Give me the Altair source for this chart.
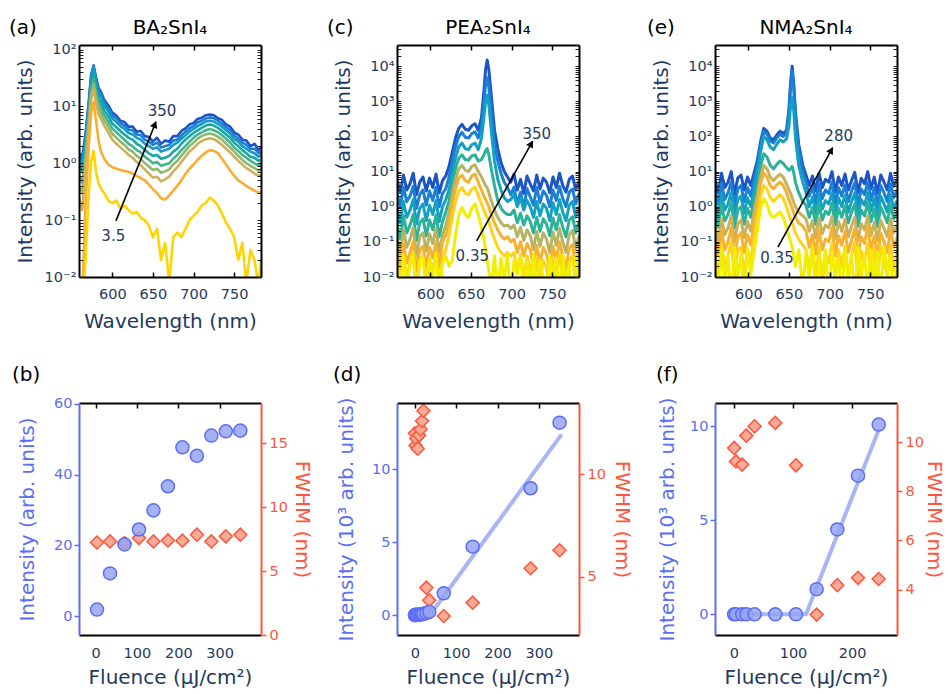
import altair as alt
import pandas as pd

FONT = "DejaVu Sans"
NAVY = "#1F3A60"
BLUE = "#5A6EF5"
RED = "#FF553C"

# ---------------- (a) BA2SnI4 spectra ----------------
wl_a = [559, 563, 567, 571, 574, 577, 580, 583, 586, 590, 595, 600, 605, 610, 615, 620, 625, 630, 635, 640,
        645, 650, 655, 660, 665, 670, 675, 680, 685, 690, 695, 700, 705, 710, 715, 720, 725, 730, 735, 740,
        745, 750, 755, 760, 765, 770, 775, 780, 783]
flu_a = ["350", "280", "210", "175", "140", "105", "70", "35", "3.5"]
col_a = ["#1C55C8", "#1A7ED3", "#1598C8", "#13A8A8", "#45B48E", "#8DB870", "#CDB05A", "#F9AE33", "#FFD400"]
spec_a = {
    "350": [1.5, 1.3, 3.2, 12, 36, 52.5, 32, 21, 18, 13, 10.5, 7.8, 6.9, 5.6, 5.3, 4.4, 4.4, 3.6, 3.7, 3.0,
            2.9, 2.4, 2.8, 2.2, 2.5, 2.4, 3.0, 3.0, 3.7, 4.1, 4.8, 5.1, 6.0, 6.3, 7.0, 7.2, 7.0, 6.2, 5.8, 4.8,
            4.4, 3.5, 3.2, 2.6, 2.5, 2.0, 2.2, 1.7, 1.9],
    "280": [1.3, 1.1, 2.9, 11, 34, 51, 30, 19, 16.5, 12, 9.4, 7.0, 6.2, 5.1, 4.6, 3.9, 3.8, 3.2, 3.1, 2.6,
            2.4, 2.1, 2.3, 1.9, 2.0, 2.1, 2.5, 2.6, 3.1, 3.6, 4.1, 4.5, 5.2, 5.6, 6.1, 6.4, 6.2, 5.6, 5.0, 4.3,
            3.8, 3.1, 2.7, 2.3, 2.1, 1.8, 1.8, 1.5, 1.6],
    "210": [1.1, 0.9, 2.5, 10, 31, 48, 27, 17, 14.5, 10.5, 8.2, 6.1, 5.3, 4.5, 4.0, 3.4, 3.2, 2.8, 2.6, 2.2,
            2.0, 1.8, 1.9, 1.6, 1.7, 1.8, 2.1, 2.3, 2.7, 3.1, 3.6, 4.0, 4.5, 4.9, 5.4, 5.6, 5.4, 4.9, 4.4, 3.8,
            3.3, 2.7, 2.4, 2.0, 1.8, 1.6, 1.5, 1.3, 1.4],
    "175": [0.9, 0.7, 2.0, 8, 25, 37, 21, 13.5, 11.5, 8.5, 6.6, 5.0, 4.3, 3.7, 3.2, 2.8, 2.6, 2.2, 2.0, 1.7,
            1.5, 1.35, 1.4, 1.2, 1.25, 1.35, 1.6, 1.8, 2.2, 2.6, 3.0, 3.4, 3.8, 4.2, 4.6, 4.8, 4.6, 4.2, 3.7, 3.2,
            2.8, 2.3, 2.0, 1.7, 1.5, 1.3, 1.25, 1.1, 1.15],
    "140": [0.6, 0.45, 1.5, 6.5, 20, 30, 17, 11, 9.3, 7.0, 5.4, 4.1, 3.5, 3.0, 2.6, 2.2, 2.0, 1.7, 1.55, 1.3,
            1.15, 1.0, 1.05, 0.9, 0.95, 1.0, 1.2, 1.4, 1.7, 2.0, 2.4, 2.8, 3.2, 3.5, 3.8, 4.0, 3.8, 3.5, 3.1, 2.7,
            2.3, 1.9, 1.65, 1.4, 1.25, 1.1, 1.0, 0.9, 0.95],
    "105": [0.4, 0.3, 1.1, 5.2, 16, 24.5, 14, 9, 7.5, 5.7, 4.4, 3.3, 2.8, 2.4, 2.1, 1.75, 1.6, 1.35, 1.2, 1.0,
            0.88, 0.76, 0.8, 0.68, 0.72, 0.78, 0.95, 1.1, 1.35, 1.65, 2.0, 2.3, 2.7, 3.0, 3.2, 3.35, 3.2, 2.9, 2.6, 2.2,
            1.9, 1.6, 1.35, 1.15, 1.0, 0.9, 0.82, 0.74, 0.78],
    "70": [0.25, 0.15, 0.8, 4.3, 13.5, 20.5, 11.5, 7.3, 6.1, 4.6, 3.5, 2.6, 2.2, 1.9, 1.65, 1.4, 1.25, 1.05, 0.92, 0.78,
           0.66, 0.56, 0.58, 0.48, 0.52, 0.58, 0.72, 0.85, 1.05, 1.3, 1.6, 1.85, 2.2, 2.45, 2.65, 2.75, 2.65, 2.4, 2.1, 1.8,
           1.55, 1.3, 1.1, 0.95, 0.82, 0.74, 0.66, 0.6, 0.62],
    "35": [0.004, 0.004, 0.2, 2.0, 7.5, 12, 5.5, 2.6, 1.6, 1.2, 0.95, 0.85, 0.8, 0.76, 0.73, 0.7, 0.66, 0.6, 0.55, 0.5,
           0.42, 0.35, 0.3, 0.24, 0.23, 0.27, 0.33, 0.4, 0.5, 0.65, 0.8, 0.95, 1.15, 1.35, 1.55, 1.7, 1.65, 1.5, 1.2, 0.95,
           0.75, 0.6, 0.5, 0.45, 0.4, 0.36, 0.33, 0.3, 0.31],
    "3.5": [0.003, 0.003, 0.02, 0.3, 1.1, 1.65, 0.7, 0.45, 0.36, 0.3, 0.22, 0.2, 0.22, 0.16, 0.18, 0.15, 0.13, 0.14, 0.11, 0.1,
            0.08, 0.05, 0.07, 0.02, 0.04, 0.008, 0.05, 0.06, 0.05, 0.07, 0.1, 0.12, 0.14, 0.18, 0.2, 0.25, 0.22, 0.18, 0.13, 0.09,
            0.07, 0.05, 0.02, 0.04, 0.008, 0.03, 0.02, 0.007, 0.02],
}
arrow_a = [604.5, 0.097, 653.8, 5.38]
head_a = [652.4, 4.81]
angle_a = 22
ann_a = ([661.2, 601.2], [8.3, 0.053], ["350", "3.5"])

# ---------------- (c) PEA2SnI4 spectra ----------------
wl_c = [559, 563, 567, 571, 575, 579, 583, 587, 591, 595, 599, 603, 607, 611, 615, 619, 623, 627, 631, 635,
        639, 643, 647, 651, 655, 659, 663, 666, 668, 670, 672, 675, 679, 683, 687, 691, 695, 699, 703, 707,
        711, 715, 719, 723, 727, 731, 735, 739, 743, 747, 751, 755, 759, 763, 767, 771, 775, 779, 783]
flu_c = ["350", "140", "70", "35", "17.5", "7", "1.75", "0.35"]
col_c = ["#1C55C8", "#1A80D6", "#14A0C0", "#2DB29A", "#B5B462", "#F7B12E", "#FFD21C", "#F2EE00"]
spec_c = {
    "350": [6, 2.5, 8, 3, 4.5, 9, 2.2, 5, 7, 2.8, 6.5, 3.5, 8.5, 2.5, 5.5, 7.5]
           + [14, 35, 90, 170, 220, 160, 150, 200, 230, 150, 350, 2000, 8000, 15000, 8000, 1500, 150, 45, 18, 10, 7]
           + [5, 8.5, 3, 6, 2.4, 7.5, 4.5, 2.8, 8, 3.2, 6.5, 5, 2.5, 7, 3.5, 9, 4, 2.6, 6, 7.5, 3, 5.5],
    "140": [2.5, 1.0, 3.5, 1.4, 2.0, 3.8, 0.9, 2.2, 3.0, 1.1, 2.8, 1.5, 3.6, 1.0, 2.4, 3.2]
           + [7, 18, 50, 100, 130, 95, 90, 120, 135, 90, 200, 900, 3000, 4700, 2500, 500, 60, 20, 9, 5, 3.5]
           + [2.2, 3.6, 1.2, 2.6, 0.9, 3.3, 1.9, 1.1, 3.5, 1.3, 2.8, 2.1, 1.0, 3.0, 1.5, 3.8, 1.7, 1.0, 2.6, 3.2, 1.2, 2.4],
    "70": [0.9, 0.35, 1.4, 0.5, 0.8, 1.6, 0.32, 0.9, 1.2, 0.4, 1.1, 0.6, 1.5, 0.38, 1.0, 1.6]
          + [3, 9, 25, 50, 65, 45, 42, 58, 65, 42, 90, 350, 1000, 1500, 800, 150, 20, 6, 3, 1.8, 1.4]
          + [1.6, 2.2, 1.0, 1.8, 0.8, 1.5, 1.0, 0.5, 1.4, 0.55, 1.2, 0.9, 0.4, 1.3, 0.6, 1.6, 0.7, 0.4, 1.1, 1.4, 0.5, 1.0],
    "35": [0.35, 0.12, 0.55, 0.18, 0.3, 0.6, 0.11, 0.35, 0.45, 0.15, 0.42, 0.22, 0.58, 0.14, 0.38, 0.7]
          + [1.5, 4.5, 12, 24, 30, 22, 21, 28, 30, 20, 22, 30, 40, 45, 30, 12, 4, 1.5, 0.9, 0.7, 0.6]
          + [0.6, 0.8, 0.35, 0.65, 0.3, 0.55, 0.38, 0.18, 0.5, 0.2, 0.45, 0.32, 0.15, 0.48, 0.22, 0.6, 0.26, 0.14, 0.42, 0.52, 0.18, 0.38],
    "17.5": [0.14, 0.045, 0.22, 0.07, 0.12, 0.25, 0.04, 0.14, 0.18, 0.055, 0.17, 0.09, 0.24, 0.05, 0.15, 0.3]
            + [0.7, 2.2, 6, 12, 15, 11, 10, 14, 15.5, 10, 7, 5, 4, 3.5, 2.5, 1.5, 0.8, 0.5, 0.35, 0.28, 0.3]
            + [0.24, 0.3, 0.14, 0.26, 0.11, 0.22, 0.15, 0.06, 0.2, 0.075, 0.18, 0.12, 0.05, 0.19, 0.08, 0.24, 0.1, 0.05, 0.16, 0.21, 0.065, 0.15],
    "7": [0.06, 0.016, 0.09, 0.025, 0.05, 0.1, 0.015, 0.06, 0.075, 0.02, 0.07, 0.035, 0.1, 0.018, 0.1, 0.15]
         + [0.35, 1.1, 3.2, 6.5, 8, 5.5, 5, 7.5, 8.5, 5, 3, 2, 1.6, 1.3, 1, 0.6, 0.35, 0.22, 0.15, 0.12, 0.14]
         + [0.1, 0.12, 0.05, 0.1, 0.04, 0.09, 0.06, 0.02, 0.08, 0.025, 0.07, 0.045, 0.017, 0.075, 0.03, 0.1, 0.04, 0.018, 0.065, 0.085, 0.022, 0.06],
    "1.75": [0.03, 0.005, 0.045, 0.009, 0.025, 0.05, 0.004, 0.03, 0.04, 0.007, 0.035, 0.015, 0.05, 0.006, 0.03, 0.06]
            + [0.15, 0.5, 1.4, 2.8, 3.5, 2.4, 2.2, 3.2, 3.6, 2.1, 1.2, 0.8, 0.6, 0.5, 0.38, 0.22, 0.12, 0.07, 0.05, 0.04, 0.05]
            + [0.04, 0.05, 0.015, 0.045, 0.008, 0.04, 0.02, 0.005, 0.035, 0.007, 0.03, 0.018, 0.004, 0.032, 0.009, 0.045, 0.012, 0.005, 0.028, 0.04, 0.006, 0.025],
    "0.35": [0.025, 0.003, 0.04, 0.006, 0.02, 0.045, 0.002, 0.03, 0.035, 0.004, 0.03, 0.01, 0.045, 0.003, 0.025, 0.04, 0.02, 0.03]
            + [0.15, 0.6, 0.95, 0.6, 0.5, 0.9, 1.2, 0.6, 0.25, 0.12, 0.06]
            + [0.03, 0.015, 0.005, 0.04, 0.003, 0.035, 0.008, 0.045, 0.002, 0.03, 0.012, 0.04, 0.003, 0.028, 0.006,
               0.045, 0.004, 0.03, 0.01, 0.002, 0.04, 0.007, 0.035, 0.003, 0.042, 0.009, 0.025, 0.002, 0.038, 0.006],
}
arrow_c = [657.1, 0.106, 726.0, 74.0]
head_c = [724.2, 62.4]
angle_c = 29
ann_c = ([731.0, 651.7], [119.0, 0.0395], ["350", "0.35"])

# ---------------- (e) NMA2SnI4 spectra ----------------
wl_e = [559, 563, 567, 571, 575, 579, 583, 587, 591, 595, 599, 603, 607, 611, 615, 619, 623, 627, 631, 635,
        639, 643, 647, 650, 652, 654, 656, 658, 662, 667, 671, 675, 679, 683, 687, 691, 695, 699, 703, 707,
        711, 715, 719, 723, 727, 731, 735, 739, 743, 747, 751, 755, 759, 763, 767, 771, 775, 779, 783]
flu_e = ["280", "210", "140", "105", "35", "14", "3.5", "0.35"]
col_e = ["#1C55C8", "#1A80D6", "#14A0C0", "#2DB29A", "#C9B25A", "#F7B12E", "#FFD21C", "#F2EE00"]
spec_e = {
    "280": [6, 2.5, 9, 3.5, 5, 10, 2.2, 6.5, 8, 3, 7, 4, 9]
           + [20, 70, 170, 140, 90, 80, 110, 140, 120, 150, 600, 3500, 10000, 3000, 500, 60, 15]
           + [8, 4, 7.5, 2.8, 9, 3.5, 6, 5, 10, 2.6, 7, 4, 8.5, 3, 5.5, 9.5, 2.5, 6.5, 4.5, 10, 3.2, 7, 2.4, 8, 5, 3, 9, 3.8, 6],
    "210": [3, 1.2, 4.5, 1.6, 2.5, 5, 1.0, 3.2, 4, 1.4, 3.5, 2, 6]
           + [14, 55, 140, 115, 75, 65, 90, 115, 100, 120, 450, 2500, 7400, 2200, 350, 40, 10]
           + [5, 2, 3.8, 1.3, 4.5, 1.7, 3, 2.4, 5, 1.2, 3.5, 2, 4.2, 1.4, 2.8, 4.8, 1.1, 3.2, 2.2, 5, 1.5, 3.5, 1.1, 4, 2.5, 1.4, 4.5, 1.8, 3],
    "140": [1.4, 0.55, 2.2, 0.8, 1.2, 2.5, 0.5, 1.6, 2.0, 0.65, 1.8, 1.0, 3]
           + [8, 35, 100, 80, 50, 42, 60, 80, 70, 85, 200, 700, 1300, 500, 90, 15, 5]
           + [2.5, 1.0, 1.9, 0.65, 2.3, 0.85, 1.5, 1.2, 2.5, 0.6, 1.8, 1.0, 2.1, 0.7, 1.4, 2.4, 0.55, 1.6, 1.1, 2.5, 0.75, 1.7, 0.55, 2.0, 1.2, 0.7, 2.2, 0.9, 1.5],
    "105": [0.7, 0.26, 1.1, 0.4, 0.6, 1.3, 0.25, 0.8, 1.0, 0.32, 0.9, 0.5, 1.6]
           + [4, 14, 32, 26, 15, 12, 16, 20, 17, 13, 11, 12, 14, 9, 5, 2.5, 1.4]
           + [1.1, 0.5, 0.95, 0.32, 1.15, 0.42, 0.75, 0.6, 1.25, 0.3, 0.9, 0.5, 1.05, 0.35, 0.7, 1.2, 0.28, 0.8, 0.55, 1.3, 0.38, 0.85, 0.27, 1.0, 0.6, 0.35, 1.1, 0.45, 0.75],
    "35": [0.3, 0.1, 0.45, 0.16, 0.25, 0.55, 0.1, 0.33, 0.42, 0.13, 0.38, 0.2, 0.7]
          + [2, 7, 15, 12, 7, 5.5, 7, 8.5, 7, 4.5, 3, 2.4, 1.8, 1.3, 1, 0.7, 0.55]
          + [0.45, 0.2, 0.4, 0.13, 0.48, 0.17, 0.3, 0.25, 0.52, 0.12, 0.38, 0.2, 0.44, 0.14, 0.28, 0.5, 0.11, 0.33, 0.22, 0.55, 0.15, 0.36, 0.11, 0.42, 0.24, 0.14, 0.46, 0.18, 0.3],
    "14": [0.12, 0.04, 0.2, 0.06, 0.1, 0.25, 0.035, 0.14, 0.18, 0.05, 0.16, 0.08, 0.35]
          + [1.2, 4.5, 9, 7, 4, 3.2, 4.2, 5, 4, 2.5, 1.6, 1.2, 0.9, 0.65, 0.5, 0.35, 0.28]
          + [0.2, 0.07, 0.16, 0.045, 0.22, 0.06, 0.12, 0.1, 0.25, 0.04, 0.15, 0.08, 0.2, 0.05, 0.11, 0.24, 0.04, 0.14, 0.09, 0.28, 0.055, 0.15, 0.04, 0.18, 0.1, 0.05, 0.22, 0.07, 0.13],
    "3.5": [0.05, 0.01, 0.08, 0.02, 0.04, 0.1, 0.008, 0.06, 0.07, 0.012, 0.06, 0.03, 0.12]
           + [0.5, 2, 4, 3.2, 1.8, 1.4, 1.8, 2.2, 1.7, 1.0, 0.6, 0.45, 0.35, 0.25, 0.18, 0.12, 0.08]
           + [0.06, 0.015, 0.08, 0.01, 0.07, 0.006, 0.05, 0.025, 0.09, 0.008, 0.06, 0.02, 0.075, 0.01, 0.04, 0.1, 0.007, 0.055, 0.03, 0.09, 0.012, 0.065, 0.008, 0.08, 0.035, 0.01, 0.085, 0.015, 0.05],
    "0.35": [0.03, 0.003, 0.06, 0.006, 0.045, 0.002, 0.07, 0.01, 0.04, 0.003, 0.065, 0.012, 0.05]
            + [0.2, 0.9, 1.7, 1.2, 0.6, 0.5, 0.6, 0.7, 0.5, 0.25, 0.14, 0.1, 0.07, 0.04, 0.02, 0.06]
            + [0.005, 0.05, 0.008, 0.07, 0.003, 0.04, 0.012, 0.06, 0.002, 0.05, 0.01, 0.035, 0.003, 0.065, 0.008,
               0.045, 0.002, 0.07, 0.01, 0.04, 0.004, 0.06, 0.008, 0.05, 0.003, 0.07, 0.012, 0.04, 0.002, 0.06],
}
arrow_e = [636.5, 0.0713, 703.9, 47.8]
head_e = [702.0, 40.3]
angle_e = 29
ann_e = ([711.2, 635.3], [102.6, 0.034], ["280", "0.35"])

# ---------------- (b) BA2SnI4 fluence series ----------------
flu_b = [3.5, 35, 70, 105, 140, 175, 210, 245, 280, 315, 350]
int_b = [1.9, 12.1, 20.3, 24.5, 29.9, 36.7, 47.7, 45.3, 51.0, 52.2, 52.4]
fwhm_b = [7.24, 7.32, 7.19, 7.58, 7.32, 7.40, 7.38, 7.85, 7.32, 7.72, 7.85]

# ---------------- (d) PEA2SnI4 fluence series ----------------
flu_d = [0.35, 0.7, 1.75, 3.5, 7, 10.5, 14, 17.5, 21, 28, 35, 70, 140, 280, 350]
int_d = [0.0, 0.0, 0.0, 0.01, 0.02, 0.03, 0.04, 0.06, 0.08, 0.14, 0.22, 1.49, 4.69, 8.7, 13.2]
flu_d_w = [0.35, 1.75, 3.5, 7, 10.5, 14, 17.5, 21, 28, 35, 70, 140, 280, 350]
fwhm_d = [12.0, 11.4, 11.75, 11.25, 11.9, 12.2, 12.6, 13.1, 4.46, 3.85, 3.08, 3.73, 5.41, 6.29]
fit_d_x = [40, 355]
fit_d_y = [0.12, 12.4]

# ---------------- (f) NMA2SnI4 fluence series ----------------
flu_f = [0.35, 3.5, 14, 21, 35, 70, 105, 140, 175, 210, 245]
int_f = [0.0, 0.0, 0.0, 0.0, 0.0, 0.0, 0.0, 1.34, 4.52, 7.38, 10.1]
fwhm_f = [9.77, 9.22, 9.09, 10.27, 10.65, 10.79, 9.06, 2.98, 4.18, 4.48, 4.43]
fit_f_x = [0.35, 122, 246]
fit_f_y = [0.0, 0.0, 9.9]

SUP = {-2: "\u207b\u00b2", -1: "\u207b\u00b9", 0: "\u2070", 1: "\u00b9", 2: "\u00b2", 3: "\u00b3", 4: "\u2074"}


def log_values(kmax, top):
    vals = []
    for k in range(-2, kmax + 1):
        for m in range(1, 10):
            v = round(m * 10.0 ** k, 8)
            if v <= top:
                vals.append(v)
    return vals


def log_label_expr(kmax):
    parts = [f"datum.value == {10.0 ** k!r} ? '10{SUP[k]}'" for k in range(-2, kmax + 1)]
    return " : ".join(parts) + " : ''"


def ax(**kw):
    base = dict(grid=False, zindex=1, labelFont=FONT, titleFont=FONT, titleFontWeight="normal",
                labelFontSize=14.5, titleFontSize=20, labelFlush=False, labelOverlap=False)
    base.update(kw)
    return alt.Axis(**base)


XT = [600, 650, 700, 750]


def head_text(letter, lx, name, ly):
    items = [alt.Chart(pd.DataFrame({"t": [letter]})).mark_text(
        align="left", baseline="middle", fontSize=20, color="black").encode(
        x=alt.value(lx), y=alt.value(ly), text="t:N")]
    if name:
        items.append(alt.Chart(pd.DataFrame({"t": [name]})).mark_text(
            align="center", baseline="middle", fontSize=20, color="black").encode(
            x=alt.value(91), y=alt.value(ly), text="t:N"))
    return items


def spec_panel(letter, lx, name, wl, flu, curves, colors, ytop, kmax, arrow, head, ang, ann, sw):
    rows = []
    for f in flu:
        vals = curves[f]
        assert len(vals) == len(wl), (name, f, len(vals), len(wl))
        for w, v in zip(wl, vals):
            rows.append({"wl": w, "I": v, "fl": f})
    df = pd.DataFrame(rows)
    xs = alt.Scale(domain=[559, 783], nice=False, zero=False)
    ys = alt.Scale(type="log", domain=[0.01, ytop], nice=False)
    yv = log_values(kmax, ytop)
    lab = log_label_expr(kmax)
    lines = alt.Chart(df).mark_line(clip=True, strokeWidth=sw, strokeJoin="round").encode(
        x=alt.X("wl:Q", scale=xs, axis=ax(orient="bottom", values=XT, title="Wavelength (nm)",
                                          tickSize={"expr": "-5"}, tickColor="black", tickWidth=1.5,
                                          domainColor="black", domainWidth=2, labelColor=NAVY,
                                          labelPadding=15, titleColor=NAVY, titlePadding=11)),
        y=alt.Y("I:Q", scale=ys, axis=ax(orient="left", values=yv, labelExpr=lab,
                                         title="Intensity (arb. units)", tickSize={"expr": "-4"},
                                         tickColor="#222222", tickWidth=1, domainColor="black", domainWidth=2,
                                         labelColor=NAVY, labelPadding=7, titleColor=NAVY, titlePadding=9)),
        color=alt.Color("fl:N", scale=alt.Scale(domain=flu, range=colors), legend=None),
    )
    adf = pd.DataFrame({"x": [arrow[0]], "y": [arrow[1]], "x2": [arrow[2]], "y2": [arrow[3]]})
    rule = alt.Chart(adf).mark_rule(color="black", strokeWidth=1.6).encode(
        x=alt.X("x:Q", scale=xs, axis=ax(orient="top", values=XT, labels=False, title=None,
                                         tickSize={"expr": "-5"}, tickColor="black", tickWidth=1.5,
                                         domainColor="black", domainWidth=2)),
        y=alt.Y("y:Q", scale=ys, axis=ax(orient="right", values=yv, labels=False, title=None,
                                         tickSize={"expr": "-4"}, tickColor="#222222", tickWidth=1,
                                         domainColor="black", domainWidth=2)),
        x2="x2:Q", y2="y2:Q",
    )
    hdf = pd.DataFrame({"x": [head[0]], "y": [head[1]]})
    hd = alt.Chart(hdf).mark_point(shape="triangle-up", filled=True, size=60, angle=ang,
                                   color="black", opacity=1).encode(
        x=alt.X("x:Q", scale=xs, axis=None), y=alt.Y("y:Q", scale=ys, axis=None))
    tdf = pd.DataFrame({"x": ann[0], "y": ann[1], "t": ann[2]})
    tx = alt.Chart(tdf).mark_text(fontSize=15, color=NAVY).encode(
        x=alt.X("x:Q", scale=xs, axis=None), y=alt.Y("y:Q", scale=ys, axis=None), text="t:N")
    return alt.layer(lines, rule, hd, tx, *head_text(letter, lx, name, -17)).properties(width=182, height=232)


def flu_panel(letter, lx, fi, iv, fw, wv, fitx, fity, xdom, xvals, ldom, lvals, ltitle, lpad,
              rdom, rvals, rpad):
    xs = alt.Scale(domain=xdom, nice=False, zero=False)
    ls = alt.Scale(domain=ldom, nice=False, zero=False)
    rs = alt.Scale(domain=rdom, nice=False, zero=False)
    dia = alt.Chart(pd.DataFrame({"f": fw, "w": wv})).mark_point(
        shape="diamond", filled=True, size=170, fill="#F9AB98", stroke=RED, strokeWidth=1.5,
        opacity=1).encode(
        x=alt.X("f:Q", scale=xs, axis=ax(orient="top", values=xvals, labels=False, title=None,
                                         tickSize={"expr": "-5"}, tickColor="black", tickWidth=1.5,
                                         domainColor="black", domainWidth=2)),
        y=alt.Y("w:Q", scale=rs, axis=ax(orient="right", values=rvals, title="FWHM (nm)", tickSize=5,
                                         tickColor=RED, tickWidth=1.5, domainColor=RED, domainWidth=2,
                                         labelColor=RED, labelPadding=3, titleColor=RED,
                                         titlePadding=rpad)))
    layers = [dia]
    if fitx:
        fit = alt.Chart(pd.DataFrame({"f": fitx, "i": fity})).mark_line(
            color="#A9B5F5", strokeWidth=4).encode(
            x=alt.X("f:Q", scale=xs, axis=None), y=alt.Y("i:Q", scale=ls, axis=None))
        layers.append(fit)
    cir = alt.Chart(pd.DataFrame({"f": fi, "i": iv})).mark_point(
        shape="circle", filled=True, size=170, fill="#97A5F2", stroke=BLUE, strokeWidth=1.5,
        opacity=1, fillOpacity=0.85).encode(
        x=alt.X("f:Q", scale=xs, axis=ax(orient="bottom", values=xvals, title="Fluence (\u00b5J/cm\u00b2)",
                                         ticks=False, domainColor="black", domainWidth=2,
                                         labelColor=NAVY, labelPadding=11, titleColor=NAVY,
                                         titlePadding=8)),
        y=alt.Y("i:Q", scale=ls, axis=ax(orient="left", values=lvals, title=ltitle, tickSize=5,
                                         tickColor=BLUE, tickWidth=1.5, domainColor=BLUE, domainWidth=2,
                                         labelColor=BLUE, labelPadding=2, titleColor=BLUE,
                                         titlePadding=lpad)))
    layers.append(cir)
    layers += head_text(letter, lx, None, -28)
    return alt.layer(*layers).resolve_scale(y="independent").properties(width=182, height=232)


pa = spec_panel("(a)", -70, "BA\u2082SnI\u2084", wl_a, flu_a, spec_a, col_a, 120, 2, arrow_a, head_a, angle_a, ann_a, 2.6)
pc = spec_panel("(c)", -70, "PEA\u2082SnI\u2084", wl_c, flu_c, spec_c, col_c, 40000, 4, arrow_c, head_c, angle_c, ann_c, 3)
pe = spec_panel("(e)", -68, "NMA\u2082SnI\u2084", wl_e, flu_e, spec_e, col_e, 40000, 4, arrow_e, head_e, angle_e, ann_e, 3)

I10 = "Intensity (10\u00b3 arb. units)"
pb = flu_panel("(b)", -67, flu_b, int_b, flu_b, fwhm_b, [], [], [-40, 400], [0, 100, 200, 300],
               [-5.27, 60.2], [0, 20, 40, 60], "Intensity (arb. units)", 16, [0, 18.15], [0, 5, 10, 15], 4)
pdd = flu_panel("(d)", -64, flu_d, int_d, flu_d_w, fwhm_d, fit_d_x, fit_d_y, [-43, 397], [0, 100, 200, 300],
                [-1.37, 14.55], [0, 5, 10], I10, 15, [2.15, 13.48], [5, 10], 6)
pf = flu_panel("(f)", -59, flu_f, int_f, flu_f, fwhm_f, fit_f_x, fit_f_y, [-32, 276], [0, 100, 200],
               [-1.1, 11.25], [0, 5, 10], I10, 12, [2.15, 11.6], [4, 6, 8, 10], 0)

chart = alt.concat(pa, pc, pe, pb, pdd, pf, columns=3, spacing={"row": 126, "column": 136},
                   bounds="flush").resolve_scale(color="independent").properties(
    padding={"left": 8, "top": 17, "right": 3, "bottom": 0}
).configure(font=FONT).configure_view(stroke="transparent")

chart.save("out.html", embed_options={"renderer": "svg", "actions": False})
